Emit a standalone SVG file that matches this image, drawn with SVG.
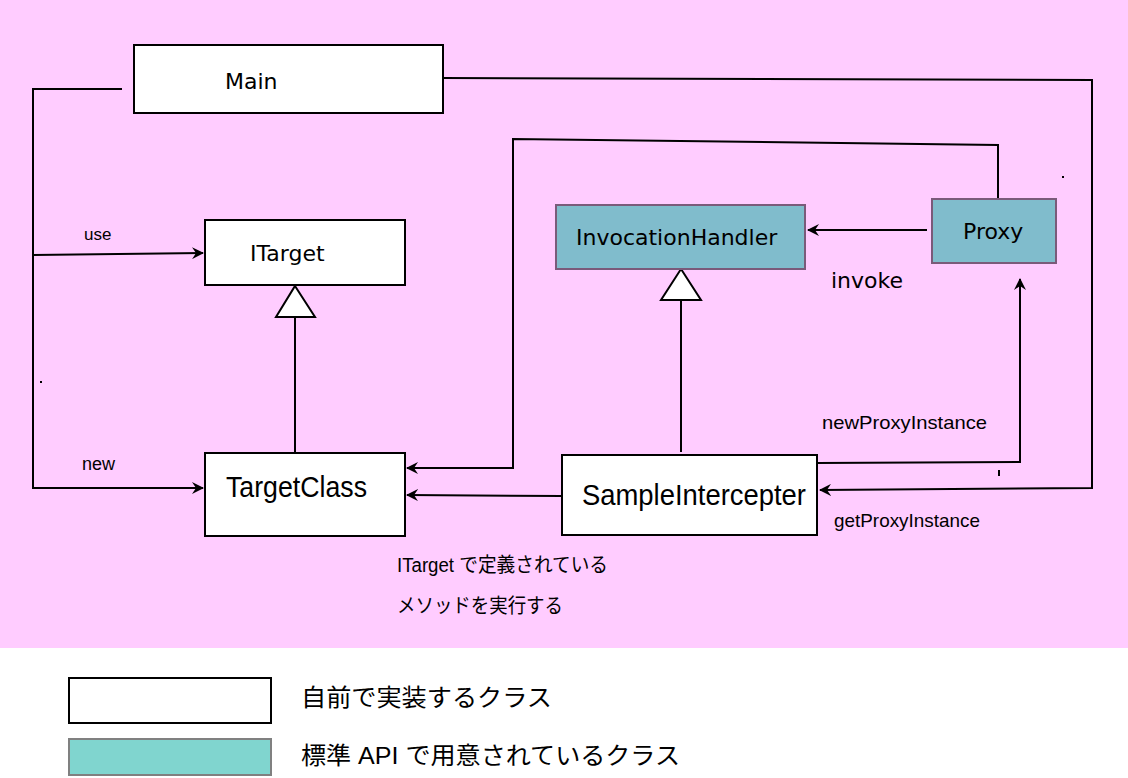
<svg xmlns="http://www.w3.org/2000/svg" width="1128" height="778" viewBox="0 0 1128 778">
<style>
.box{fill:#fff;stroke:#000;stroke-width:2}
.api{fill:#80BCCC;stroke:#7a5a7a;stroke-width:2}
.ln{fill:none;stroke:#000;stroke-width:2}
.lbl{font-family:"DejaVu Sans",Verdana,sans-serif;font-size:22px;fill:#000}
.nar{font-family:"Liberation Sans","Noto Sans CJK JP",sans-serif;fill:#000}
.tri{fill:#fff;stroke:#000;stroke-width:2}
</style>
<defs>
<marker id="ah" viewBox="0 0 12 12" refX="11" refY="6" markerWidth="12" markerHeight="12" markerUnits="userSpaceOnUse" orient="auto">
<path d="M0,0 L12,6 L0,12 L4,6 Z" fill="#000"/>
</marker>
</defs>
<rect x="0" y="0" width="1128" height="648" fill="#FFCCFF"/>
<rect x="0" y="648" width="1128" height="130" fill="#fff"/>

<g id="connectors">
<polyline class="ln" points="122,89 33,89 33,488 203,488" marker-end="url(#ah)"/>
<polyline class="ln" points="33,255 203,253" marker-end="url(#ah)"/>
<line class="ln" x1="295" y1="316" x2="295" y2="453"/>
<polygon class="tri" points="295,286 315,317 276,317"/>
<polyline class="ln" points="443,78 1092,80 1092,488 820,490" marker-end="url(#ah)"/>
<polyline class="ln" points="998,199 998,145 513,139 513,468 407,468" marker-end="url(#ah)"/>
<line class="ln" x1="927" y1="230" x2="808" y2="230" marker-end="url(#ah)"/>
<line class="ln" x1="681" y1="299" x2="681" y2="452"/>
<polygon class="tri" points="681,269 701,300 661,300"/>
<line class="ln" x1="562" y1="496" x2="407" y2="495" marker-end="url(#ah)"/>
<polyline class="ln" points="817,463 1020,462 1020,279" marker-end="url(#ah)"/>
<line class="ln" x1="999" y1="470" x2="999" y2="476"/>
<rect x="40" y="381" width="2" height="2" fill="#000"/>
<rect x="1062" y="176" width="2" height="2" fill="#000"/>
<text class="nar" x="84" y="240" font-size="17">use</text>
<text class="nar" x="82" y="470" font-size="18">new</text>
<text class="lbl" x="831" y="288" font-size="21">invoke</text>
<text class="nar" x="822" y="429" font-size="19" textLength="165" lengthAdjust="spacingAndGlyphs">newProxyInstance</text>
<text class="nar" x="834" y="527" font-size="19" textLength="146" lengthAdjust="spacingAndGlyphs">getProxyInstance</text>
</g>

<g id="Main">
<rect class="box" x="134" y="45" width="309" height="68"/>
<text class="lbl" x="225" y="89">Main</text>
</g>
<g id="ITarget">
<rect class="box" x="205" y="220" width="200" height="65"/>
<text class="lbl" x="250" y="261">ITarget</text>
</g>
<g id="TargetClass">
<rect class="box" x="205" y="453" width="200" height="83"/>
<text class="nar" x="226" y="497" font-size="29" textLength="141" lengthAdjust="spacingAndGlyphs">TargetClass</text>
</g>
<g id="InvocationHandler">
<rect class="api" x="556" y="205" width="249" height="64"/>
<text class="lbl" x="576" y="245">InvocationHandler</text>
</g>
<g id="Proxy">
<rect class="api" x="932" y="199" width="124" height="64"/>
<text class="lbl" x="963" y="239">Proxy</text>
</g>
<g id="SampleIntercepter">
<rect class="box" x="562" y="455" width="255" height="80"/>
<text class="nar" x="582" y="505" font-size="29" textLength="224" lengthAdjust="spacingAndGlyphs">SampleIntercepter</text>
</g>

<g id="note">
<text class="nar" x="397" y="572" font-size="20" textLength="211" lengthAdjust="spacingAndGlyphs">ITarget で定義されている</text>
<text class="nar" x="397" y="613" font-size="20" textLength="166" lengthAdjust="spacingAndGlyphs">メソッドを実行する</text>
</g>

<g id="legend">
<rect x="69" y="678" width="202" height="45" fill="#fff" stroke="#000" stroke-width="2"/>
<text class="nar" x="301" y="706" font-size="24" textLength="251" lengthAdjust="spacingAndGlyphs">自前で実装するクラス</text>
<rect x="69" y="739" width="202" height="36" fill="#80D5CF" stroke="#808080" stroke-width="2"/>
<text class="nar" x="301" y="764" font-size="24" textLength="379" lengthAdjust="spacingAndGlyphs">標準 API で用意されているクラス</text>
</g>
</svg>
